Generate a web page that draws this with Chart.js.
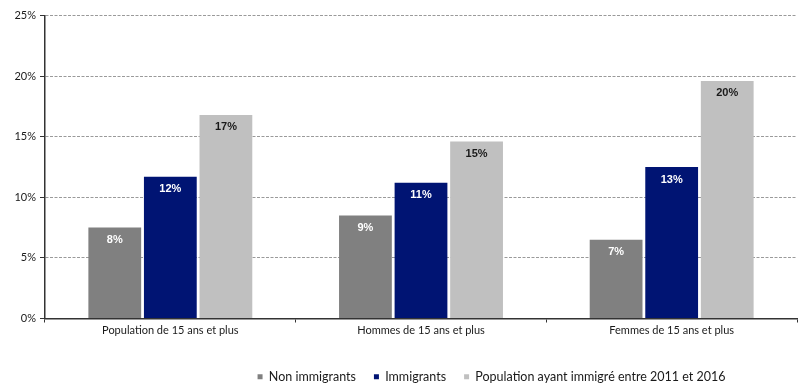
<!DOCTYPE html>
<html>
<head>
<meta charset="utf-8">
<script src="https://cdn.jsdelivr.net/npm/chart.js@4"></script>
<style>
  html, body { margin: 0; padding: 0; background: #ffffff; }
  #wrap { width: 798px; height: 383px; position: relative; }
</style>
</head>
<body>
<div id="wrap"><canvas id="chart"></canvas></div>
<script>
// Catégories et séries (en %)
const categories = ["Population de 15 ans et plus", "Hommes de 15 ans et plus", "Femmes de 15 ans et plus"];
const seriesNames = ["Non immigrants", "Immigrants", "Population ayant immigré entre 2011 et 2016"];
const nonImmigrants = [7.5, 8.5, 6.5];
const immigrants = [11.7, 11.2, 12.5];
const recentImmigrants = [16.8, 14.6, 19.6];
const yTicks = [0, 5, 10, 15, 20, 25];

const colors = ["#808080", "#001473", "#c0c0c0"];
const labelColors = ["#ffffff", "#ffffff", "#1a1a1a"];

// Étiquettes de valeur à l'intérieur du haut des barres
const valueLabels = {
  id: "valueLabels",
  afterDatasetsDraw(chart) {
    const ctx = chart.ctx;
    ctx.save();
    ctx.font = "bold 11px 'Liberation Sans', Arial, sans-serif";
    ctx.textAlign = "center";
    ctx.textBaseline = "middle";
    chart.data.datasets.forEach((ds, di) => {
      const meta = chart.getDatasetMeta(di);
      meta.data.forEach((bar, i) => {
        ctx.fillStyle = labelColors[di];
        ctx.fillText(Math.round(ds.data[i]) + "%", bar.x, bar.y + 12.5);
      });
    });
    ctx.restore();
  }
};

// Décale la légende vers la droite (centrée sur x ≈ 492)
const legendShift = {
  id: "legendShift",
  afterLayout(chart) {
    if (chart.legend) chart.legend.left += 186;
  }
};

new Chart(document.getElementById("chart"), {
  type: "bar",
  data: {
    labels: categories,
    datasets: [
      { label: seriesNames[0], data: nonImmigrants, backgroundColor: colors[0] },
      { label: seriesNames[1], data: immigrants, backgroundColor: colors[1] },
      { label: seriesNames[2], data: recentImmigrants, backgroundColor: colors[2] }
    ]
  },
  options: {
    responsive: true,
    maintainAspectRatio: false,
    animation: false,
    layout: { padding: { top: 15.5, right: 1, left: 0, bottom: -10 } },
    datasets: {
      bar: { categoryPercentage: 0.665, barPercentage: 0.95 }
    },
    scales: {
      x: {
        grid: { display: true, drawOnChartArea: false, offset: true, tickLength: 4, color: "#333333" },
        border: { display: true, color: "#333333", width: 1.5 },
        ticks: { color: "#1a1a1a", font: { family: "Lato, 'Open Sans', sans-serif", size: 11 }, padding: 1 },
        afterFit(scale) { scale.height = 34; }
      },
      y: {
        min: 0,
        max: 25,
        afterBuildTicks(scale) { scale.ticks = yTicks.map(v => ({ value: v })); },
        grid: { color: "#9a9a9a", tickLength: 5, tickColor: "#333333", tickBorderDash: [] },
        border: { display: true, color: "#333333", width: 1.5, dash: [3, 1.5] },
        ticks: {
          color: "#1a1a1a",
          font: { family: "Lato, 'Open Sans', sans-serif", size: 11 },
          padding: 4,
          callback: v => v + "%"
        },
        afterFit(scale) { scale.width = 45; }
      }
    },
    plugins: {
      legend: {
        position: "bottom",
        labels: {
          color: "#1a1a1a",
          font: { family: "Lato, 'Open Sans', sans-serif", size: 12.5 },
          boxWidth: 5,
          boxHeight: 5,
          padding: 18
        }
      },
      tooltip: { enabled: false }
    }
  },
  plugins: [valueLabels, legendShift]
});
</script>
</body>
</html>
